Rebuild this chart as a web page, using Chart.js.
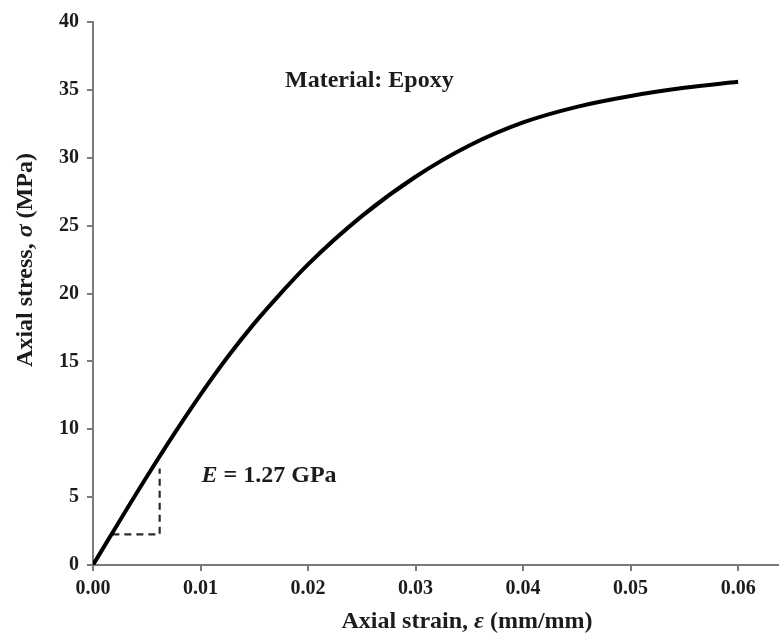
<!DOCTYPE html>
<html>
<head>
<meta charset="utf-8">
<script src="https://cdn.jsdelivr.net/npm/chart.js@4"></script>
<style>
  html, body { margin: 0; padding: 0; background: #fff; }
  #wrap { width: 779px; height: 639px; }
</style>
</head>
<body>
<div id="wrap"><canvas id="myChart" width="779" height="639"></canvas></div>
<script>
// datos
const strain = [0, 0.0025, 0.005, 0.0075, 0.010, 0.0125, 0.015, 0.0175, 0.020, 0.025, 0.030, 0.035, 0.040, 0.045, 0.050, 0.055, 0.060]
const stress = [0, 3.28, 6.5, 9.6, 12.55, 15.3, 17.8, 20.05, 22.15, 25.7, 28.6, 30.9, 32.6, 33.75, 34.55, 35.15, 35.6]

// triangulo del modulo E
const triStrain = [0.0018, 0.0062, 0.0062]
const triStress = [2.26, 2.26, 7.1]

const xTicks = [0, 0.01, 0.02, 0.03, 0.04, 0.05, 0.06]
const yTicks = [0, 5, 10, 15, 20, 25, 30, 35, 40]

const FONT = "'Liberation Serif', 'Times New Roman', serif"
const INK = "#1c1c1c"
const AXIS = "#7a7a7a"

const toPoints = (xs, ys) => xs.map((x, i) => ({ x: x, y: ys[i] }))

// dibuja texto con partes en cursiva
function drawParts(ctx, parts, x, y, align) {
    ctx.save()
    ctx.fillStyle = INK
    ctx.textBaseline = "middle"
    ctx.textAlign = "left"
    let total = 0
    parts.forEach(p => {
        ctx.font = (p.italic ? "italic " : "") + "bold 24px " + FONT
        total += ctx.measureText(p.t).width
    })
    let cx = align === "center" ? x - total / 2 : x
    parts.forEach(p => {
        ctx.font = (p.italic ? "italic " : "") + "bold 24px " + FONT
        ctx.fillText(p.t, cx, y)
        cx += ctx.measureText(p.t).width
    })
    ctx.restore()
}

const textos = {
    id: "textos",
    afterDraw(chart) {
        const ctx = chart.ctx
        const xs = chart.scales.x
        const ys = chart.scales.y
        drawParts(ctx, [{ t: "Material: Epoxy" }], xs.getPixelForValue(0.0257), ys.getPixelForValue(35.7), "center")
        drawParts(ctx, [{ t: "E", italic: true }, { t: " = 1.27 GPa" }], xs.getPixelForValue(0.0101), ys.getPixelForValue(6.6), "left")
        drawParts(ctx, [{ t: "Axial strain, " }, { t: "ε", italic: true }, { t: " (mm/mm)" }], 467, 622, "center")
        ctx.save()
        ctx.translate(26, 260)
        ctx.rotate(-Math.PI / 2)
        drawParts(ctx, [{ t: "Axial stress, " }, { t: "σ", italic: true }, { t: " (MPa)" }], 0, 0, "center")
        ctx.restore()
    }
}

const config = {
    type: "line",
    data: {
        datasets: [
            {
                label: "Epoxy",
                data: toPoints(strain, stress),
                borderColor: "#000",
                borderWidth: 4,
                pointRadius: 0,
                cubicInterpolationMode: "monotone",
                fill: false
            },
            {
                label: "E",
                data: toPoints(triStrain, triStress),
                borderColor: "#2a2a2a",
                borderWidth: 2.2,
                borderDash: [7, 5],
                pointRadius: 0,
                tension: 0,
                fill: false
            }
        ]
    },
    options: {
        responsive: false,
        animation: false,
        layout: { padding: { top: 22, right: 0, left: 0, bottom: 0 } },
        plugins: { legend: { display: false }, tooltip: { enabled: false } },
        scales: {
            x: {
                type: "linear",
                min: 0,
                max: 0.0638,
                afterBuildTicks: s => { s.ticks = xTicks.map(v => ({ value: v })) },
                afterFit: s => { s.height = 74 },
                border: { color: AXIS, width: 2 },
                grid: { drawOnChartArea: false, drawTicks: true, tickLength: 6, color: AXIS, lineWidth: 2 },
                ticks: {
                    color: INK,
                    padding: 6,
                    font: { family: FONT, size: 20, weight: "bold" },
                    callback: v => v.toFixed(2),
                    maxRotation: 0
                }
            },
            y: {
                min: 0,
                max: 40,
                afterBuildTicks: s => { s.ticks = yTicks.map(v => ({ value: v })) },
                afterFit: s => { s.width = 93 },
                border: { color: AXIS, width: 2 },
                grid: { drawOnChartArea: false, drawTicks: true, tickLength: 6, color: AXIS, lineWidth: 2 },
                ticks: {
                    color: INK,
                    padding: 8,
                    font: { family: FONT, size: 20, weight: "bold" }
                }
            }
        }
    },
    plugins: [textos]
}

const chartDOM = document.getElementById("myChart")
new Chart(chartDOM, config)
</script>
</body>
</html>
